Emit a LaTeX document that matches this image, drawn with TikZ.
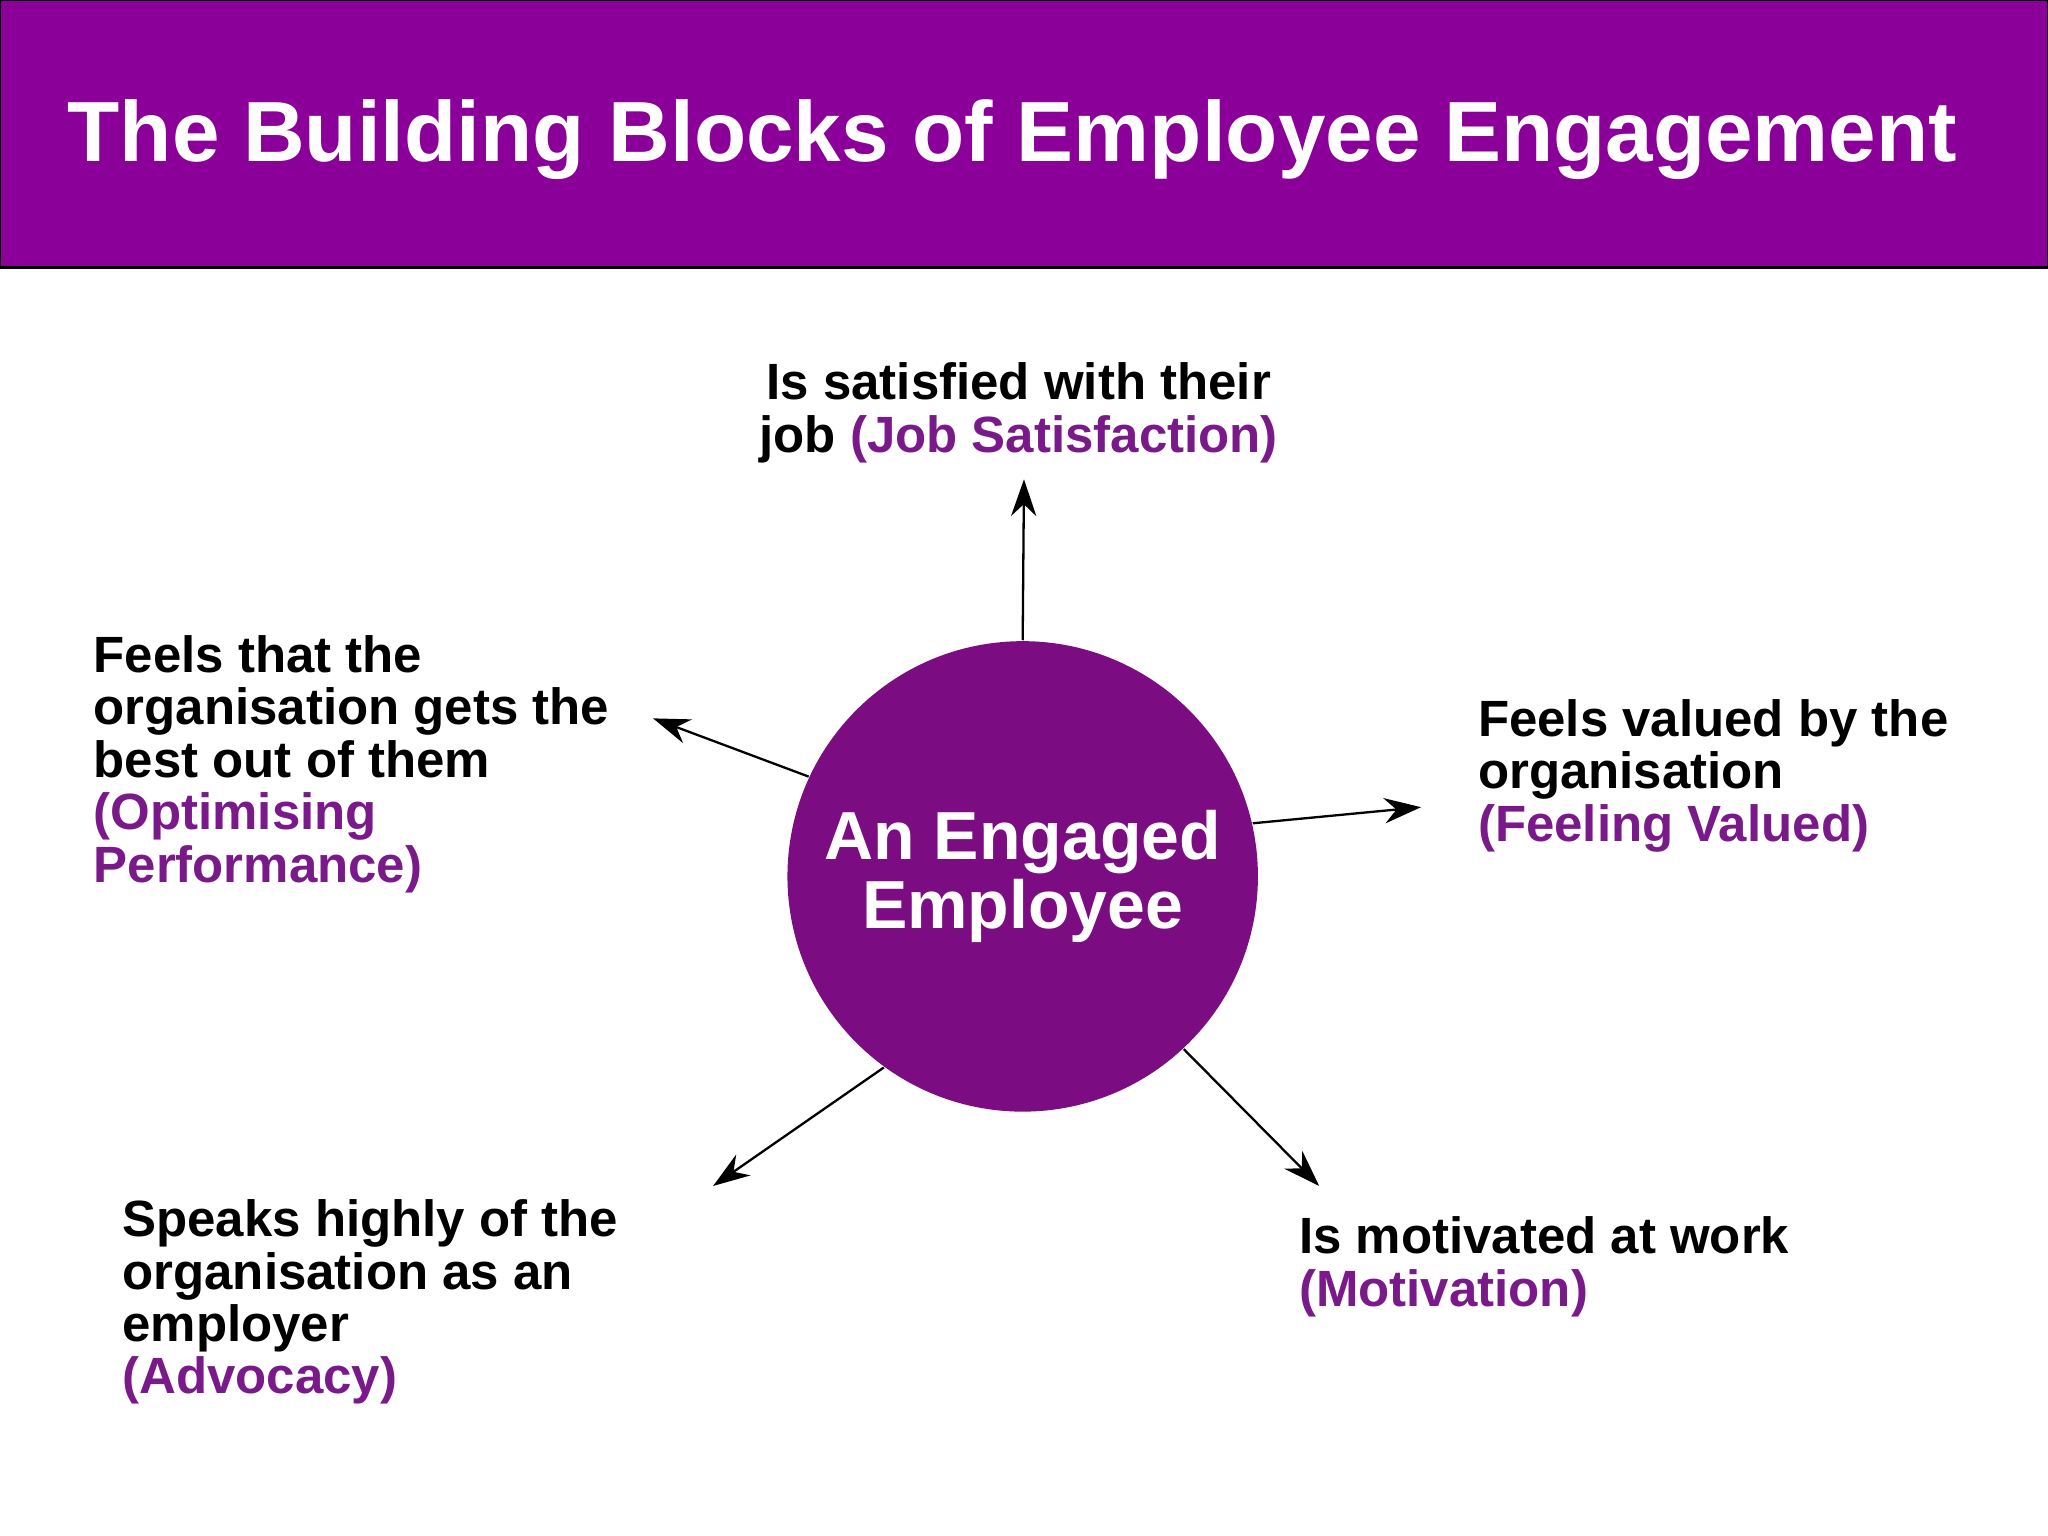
\documentclass[tikz,border=0pt]{standalone}
\usepackage{fontspec}
\setmainfont{Liberation Sans}
\usetikzlibrary{arrows.meta}
\definecolor{hdr}{HTML}{8B0099}
\definecolor{circ}{HTML}{7B0C82}
\definecolor{pur}{HTML}{7A1A8A}
\begin{document}
\begin{tikzpicture}[x=0.01cm,y=-0.01cm,
  lbl/.style={font=\fontsize{11.1pt}{11.4pt}\selectfont\bfseries,align=left,inner sep=0pt},
  arr/.style={-{Stealth[length=8pt,width=5.5pt]},line width=0.5pt}]
\useasboundingbox (0,0) rectangle (1568,1176);
\fill[white] (0,0) rectangle (1568,1176);
\draw[fill=hdr,draw=black,line width=0.6pt] (0,0) rectangle (1568,205);
\node[text=white,font=\fontsize{18.6pt}{22pt}\selectfont\bfseries] (title) at (775,107) {The Building Blocks of Employee Engagement};
\node[circle,fill=circ,minimum size=3.6cm,inner sep=0pt,text=white,align=center,font=\fontsize{14.8pt}{15pt}\selectfont\bfseries] (c) at (783,671) {An Engaged\\Employee};
\node[lbl,anchor=north,align=center] (t1) at (780,277) {Is satisfied with their\\job \textcolor{pur}{(Job Satisfaction)}};
\node[lbl,anchor=north west] (t2) at (71,486) {Feels that the\\organisation gets the\\best out of them\\\textcolor{pur}{(Optimising}\\\textcolor{pur}{Performance)}};
\node[lbl,anchor=north west] (t3) at (1131,535) {Feels valued by the\\organisation\\\textcolor{pur}{(Feeling Valued)}};
\node[lbl,anchor=north west] (t4) at (93,918) {Speaks highly of the\\organisation as an\\employer\\\textcolor{pur}{(Advocacy)}};
\node[lbl,anchor=north west] (t5) at (994,931) {Is motivated at work\\\textcolor{pur}{(Motivation)}};
\coordinate (e1) at (784,367);
\coordinate (e2) at (500,550);
\coordinate (e3) at (1088,618);
\coordinate (e4) at (546,908);
\coordinate (e5) at (1010,908);
\draw[arr] (c.90) -- (e1);
\draw[arr] (c.155) -- (e2);
\draw[arr] (c.13) -- (e3);
\draw[arr] (c.234) -- (e4);
\draw[arr] (c.313) -- (e5);
\end{tikzpicture}
\end{document}
